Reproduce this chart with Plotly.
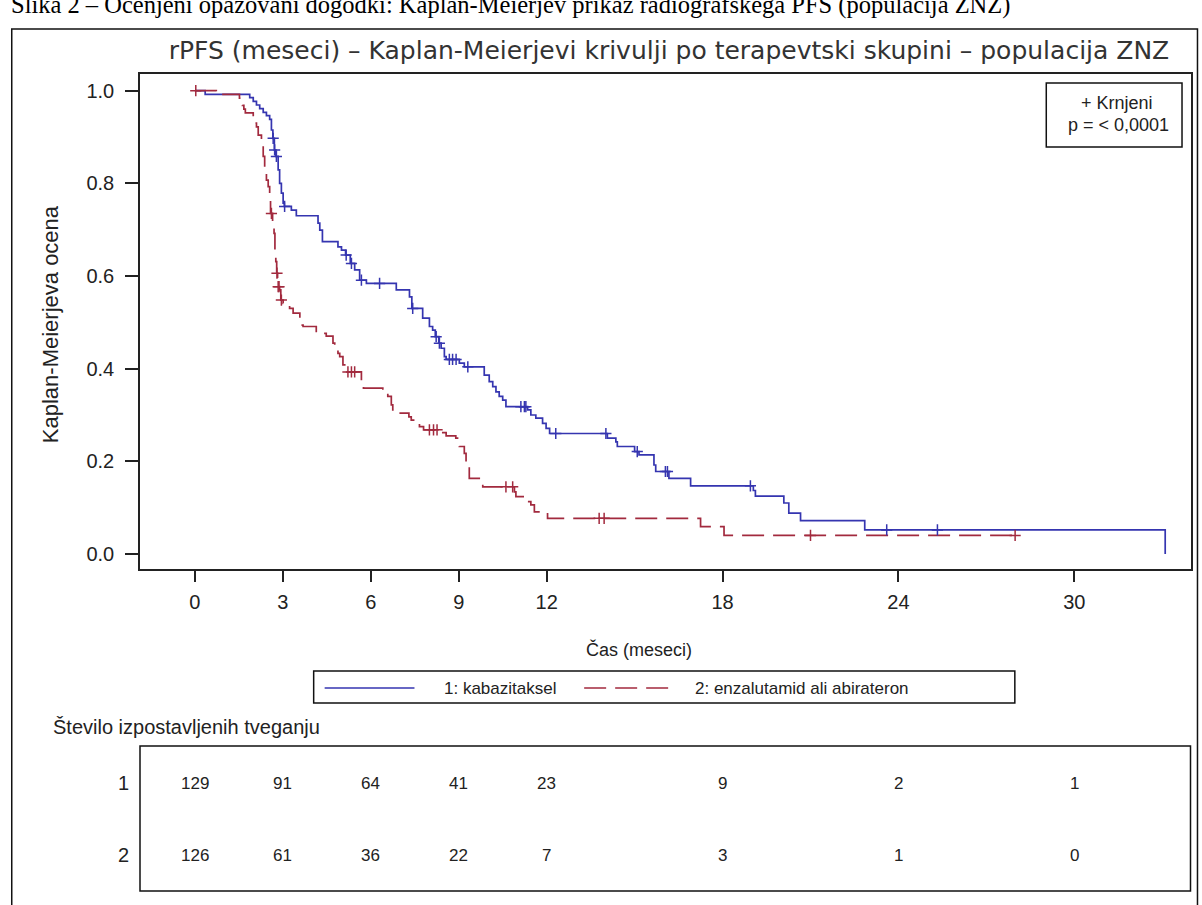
import bisect
import plotly.graph_objects as go

# ---------------- data ----------------
# Group 1: kabazitaksel  (step times in months, survival after step)
blue_t = [0, 0.35, 1.87, 1.99, 2.10, 2.21, 2.33, 2.44, 2.55, 2.61, 2.66, 2.71, 2.76,
          2.84, 2.89, 2.95, 3.01, 3.05, 3.29, 3.46, 4.20, 4.26, 4.35, 4.88, 5.00,
          5.14, 5.30, 5.45, 5.62, 5.85, 6.87, 7.32, 7.40, 7.77, 8.00, 8.11, 8.20,
          8.32, 8.40, 8.51, 8.57, 9.02, 9.19, 9.87, 10.04, 10.16, 10.27, 10.38,
          10.50, 10.61, 11.35, 11.46, 11.63, 11.86, 11.98, 12.10, 14.07, 14.36,
          14.41, 15.00, 15.15, 15.66, 15.72, 16.17, 16.91, 19.05, 19.12, 20.09,
          20.26, 20.66, 22.85, 33.10]
blue_s = [1.0, 0.992, 0.985, 0.977, 0.969, 0.961, 0.953, 0.946, 0.938, 0.915, 0.897,
          0.872, 0.858, 0.829, 0.800, 0.779, 0.757, 0.750, 0.742, 0.730, 0.714,
          0.699, 0.674, 0.663, 0.656, 0.645, 0.627, 0.613, 0.591, 0.584, 0.570,
          0.555, 0.530, 0.509, 0.491, 0.483, 0.469, 0.455, 0.444, 0.426, 0.420,
          0.412, 0.404, 0.386, 0.372, 0.361, 0.350, 0.340, 0.332, 0.318, 0.311,
          0.300, 0.293, 0.282, 0.271, 0.260, 0.250, 0.242, 0.232, 0.221, 0.214,
          0.192, 0.178, 0.163, 0.147, 0.137, 0.125, 0.110, 0.088, 0.072, 0.052, 0.0]
blue_cens = [2.67, 2.72, 2.78, 3.06, 5.16, 5.34, 5.68, 6.30, 7.43, 8.23, 8.34, 8.68,
             8.79, 8.91, 9.31, 11.12, 11.24, 11.29, 12.31, 14.02, 15.09, 16.05,
             16.12, 18.95, 23.60, 25.33]

# Group 2: enzalutamid ali abirateron
red_t = [0, 0.73, 1.52, 1.57, 1.62, 1.67, 1.72, 1.99, 2.10, 2.16, 2.27, 2.33, 2.38,
         2.44, 2.50, 2.55, 2.58, 2.65, 2.70, 2.73, 2.76, 2.79, 2.82, 2.89, 2.93,
         3.01, 3.23, 3.35, 3.58, 3.69, 4.14, 4.48, 4.71, 4.77, 4.88, 4.94, 5.05,
         5.11, 5.68, 5.75, 6.41, 6.58, 6.70, 6.75, 6.87, 7.30, 7.38, 7.66, 7.80,
         8.40, 8.57, 8.90, 9.02, 9.19, 9.25, 9.31, 9.36, 9.76, 9.82, 10.90, 10.95,
         11.24, 11.46, 11.58, 12.03, 17.25, 18.05, 27.98]
red_s = [1.0, 0.992, 0.984, 0.976, 0.968, 0.960, 0.952, 0.930, 0.922, 0.904, 0.890,
         0.858, 0.829, 0.807, 0.793, 0.771, 0.735, 0.717, 0.692, 0.656, 0.631,
         0.606, 0.577, 0.570, 0.548, 0.541, 0.530, 0.520, 0.494, 0.491, 0.476,
         0.470, 0.455, 0.447, 0.433, 0.426, 0.408, 0.393, 0.372, 0.358, 0.347,
         0.340, 0.322, 0.311, 0.304, 0.296, 0.289, 0.275, 0.268, 0.262, 0.255,
         0.250, 0.232, 0.217, 0.196, 0.188, 0.163, 0.156, 0.145, 0.134, 0.124,
         0.113, 0.106, 0.091, 0.077, 0.059, 0.040, 0.040]
red_cens = [0.03, 2.61, 2.80, 2.84, 2.87, 2.95, 5.22, 5.34, 5.45, 8.00, 8.14, 8.26,
            10.61, 10.84, 13.79, 13.96, 21.00, 27.98]

x_ticks = [0, 3, 6, 9, 12, 18, 24, 30]
y_ticks = [0.0, 0.2, 0.4, 0.6, 0.8, 1.0]
y_ticktext = ["0.0", "0.2", "0.4", "0.6", "0.8", "1.0"]

risk_times = [0, 3, 6, 9, 12, 18, 24, 30]
risk_1 = [129, 91, 64, 41, 23, 9, 2, 1]
risk_2 = [126, 61, 36, 22, 7, 3, 1, 0]

group_labels = ["1: kabazitaksel", "2: enzalutamid ali abirateron"]

# ---------------- layout helpers ----------------
W, H = 1202, 905
L, R, T, B = 140, 1193, 74, 569   # plot frame (pixels)


def px(xp):
    return (xp - L) / (R - L)


def py(yp):
    return (B - yp) / (B - T)


def step_value(ts, ss, t):
    i = bisect.bisect_right(ts, t) - 1
    return ss[max(i, 0)]


BLUE = "#3535B0"
RED = "#A22A3E"
TXT = "#222222"
SANS = "Liberation Sans, Arial, sans-serif"

fig = go.Figure()

fig.add_trace(go.Scatter(x=blue_t, y=blue_s, mode="lines", name=group_labels[0],
                         line=dict(shape="hv", color=BLUE, width=1.7),
                         showlegend=False, hoverinfo="skip"))
fig.add_trace(go.Scatter(x=red_t, y=red_s, mode="lines", name=group_labels[1],
                         line=dict(shape="hv", color=RED, width=1.7, dash="22px,9px"),
                         showlegend=False, hoverinfo="skip"))
fig.add_trace(go.Scatter(x=blue_cens, y=[step_value(blue_t, blue_s, t) for t in blue_cens],
                         mode="markers", showlegend=False, hoverinfo="skip",
                         marker=dict(symbol="cross-thin", size=8,
                                     line=dict(width=1.5, color=BLUE))))
fig.add_trace(go.Scatter(x=red_cens, y=[step_value(red_t, red_s, t) for t in red_cens],
                         mode="markers", showlegend=False, hoverinfo="skip",
                         marker=dict(symbol="cross-thin", size=8,
                                     line=dict(width=1.5, color=RED))))

fig.update_layout(
    width=W, height=H, autosize=False,
    margin=dict(l=L, r=W - R, t=T, b=H - B, pad=0),
    paper_bgcolor="white", plot_bgcolor="white",
    showlegend=False,
    title=dict(text="rPFS (meseci) \u2013 Kaplan-Meierjevi krivulji po terapevtski skupini \u2013 populacija ZNZ",
               x=px(670), xref="paper", xanchor="center",
               y=1 - 50 / H, yref="container", yanchor="middle",
               font=dict(family="DejaVu Sans, Verdana, sans-serif", size=25, color="#333333")),
)

fig.update_xaxes(range=[-1.873, 33.98], tickvals=x_ticks, ticks="outside", ticklen=11,
                 tickwidth=1.5, tickcolor=TXT, showline=True, linecolor=TXT, linewidth=1.6,
                 mirror=True, showgrid=False, zeroline=False, ticklabelstandoff=3,
                 tickfont=dict(family=SANS, size=20, color=TXT))
fig.update_yaxes(range=[-0.0324, 1.0359], tickvals=y_ticks, ticktext=y_ticktext,
                 ticks="outside", ticklen=13, tickwidth=1.5, tickcolor=TXT, showline=True,
                 linecolor=TXT, linewidth=1.6, mirror=True, showgrid=False, zeroline=False,
                 ticklabelstandoff=7,
                 tickfont=dict(family=SANS, size=20, color=TXT))

shapes = []
# outer page frame
shapes.append(dict(type="rect", xref="paper", yref="paper", x0=px(11.5), x1=px(1199.5),
                   y0=py(29), y1=py(930), line=dict(color="#111111", width=1.5)))
# censor / p-value box
shapes.append(dict(type="rect", xref="paper", yref="paper", x0=px(1048), x1=px(1184),
                   y0=py(83), y1=py(147), line=dict(color="#111111", width=1.5)))
# legend box
shapes.append(dict(type="rect", xref="paper", yref="paper", x0=px(314), x1=px(1016.5),
                   y0=py(671), y1=py(703), line=dict(color="#111111", width=1.5)))
shapes.append(dict(type="line", xref="paper", yref="paper", x0=px(325), x1=px(415),
                   y0=py(688), y1=py(688), line=dict(color=BLUE, width=1.7)))
shapes.append(dict(type="line", xref="paper", yref="paper", x0=px(585), x1=px(672),
                   y0=py(688), y1=py(688), line=dict(color=RED, width=1.7, dash="22px,9px")))
# at-risk table box
shapes.append(dict(type="rect", xref="paper", yref="paper", x0=px(140), x1=px(1192.5),
                   y0=py(746), y1=py(891), line=dict(color="#111111", width=1.5)))
fig.update_layout(shapes=shapes)

ann = []


def add_text(text, xp, yp, size, xanchor="center", yanchor="middle", family=SANS,
             color=TXT, angle=0):
    ann.append(dict(text=text, xref="paper", yref="paper", x=px(xp), y=py(yp),
                    xanchor=xanchor, yanchor=yanchor, showarrow=False, textangle=angle,
                    font=dict(family=family, size=size, color=color)))


# document caption (cut at the top of the picture)
add_text("Slika 2 \u2013 Ocenjeni opazovani dogodki: Kaplan-Meierjev prikaz radiografskega PFS (populacija ZNZ)",
         9, 5, 24.5, xanchor="left", family="Liberation Serif, Times New Roman, serif",
         color="#000000")
add_text("+ Krnjeni", 1119, 103, 18)
add_text("p = < 0,0001", 1120, 125, 18)
add_text("\u010cas (meseci)", 640, 649, 18)
add_text("Kaplan-Meierjeva ocena", 50, 324, 22, angle=-90)
add_text(group_labels[0], 501, 688, 17)
add_text(group_labels[1], 694, 688, 17, xanchor="left")
add_text("\u0160tevilo izpostavljenih tveganju", 51, 727, 20, xanchor="left")
add_text("1", 131, 783, 20, xanchor="right")
add_text("2", 131, 855, 20, xanchor="right")

for t, n1, n2 in zip(risk_times, risk_1, risk_2):
    for n, yp in ((n1, 783), (n2, 855)):
        ann.append(dict(text=str(n), xref="x", yref="paper", x=t, y=py(yp),
                        xanchor="center", yanchor="middle", showarrow=False,
                        font=dict(family=SANS, size=17, color=TXT)))

fig.update_layout(annotations=ann)

fig.write_html(
    "out.html",
    config={"displayModeBar": False},
    post_script="document.body.style.margin='0px';document.body.style.padding='0px';"
                "document.body.style.overflow='hidden';",
)
